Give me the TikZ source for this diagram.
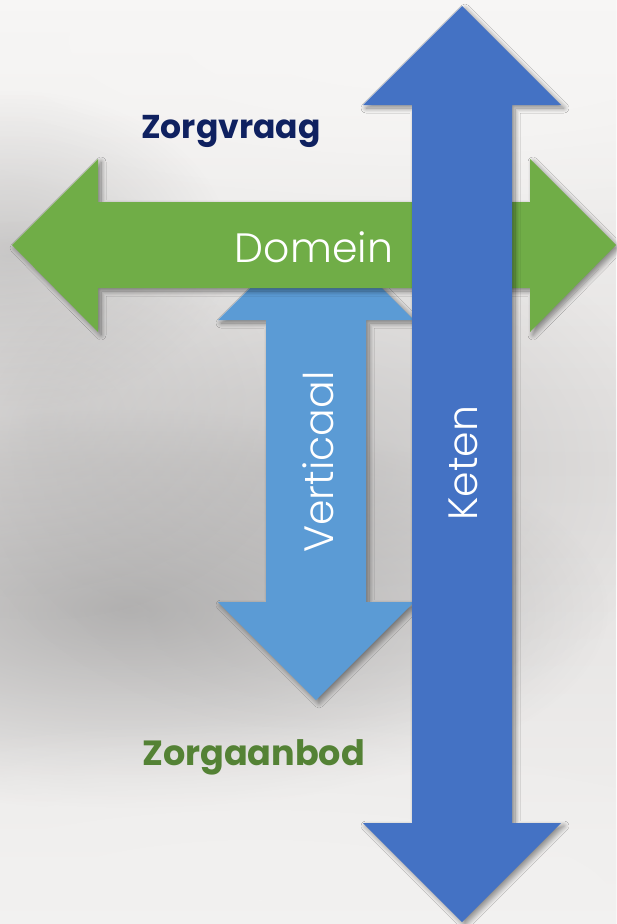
\documentclass[tikz,border=0pt]{standalone}
\usepackage{fontspec}
\setmainfont{Poppins}
\newfontfamily\lightfont{Poppins Light}
\usetikzlibrary{shadows.blur,fadings}

\definecolor{bgtop}{HTML}{F7F6F5}
\definecolor{bgmid}{HTML}{E2E0DF}
\definecolor{bgbot}{HTML}{F2F1F0}
\definecolor{cloud}{HTML}{A3A2A2}
\definecolor{domeingreen}{HTML}{70AD47}
\definecolor{ketenblue}{HTML}{4472C4}
\definecolor{verticaalblue}{HTML}{5B9BD5}
\definecolor{vraagnavy}{HTML}{0F2160}
\definecolor{aanbodgreen}{HTML}{548235}

% soft radial blob for the clouds
\tikzfading[name=softblob, inner color=transparent!0, outer color=transparent!100]

\tikzset{
  bigarrow/.style={draw=none, blur shadow={shadow xshift=3pt, shadow yshift=-3pt,
      shadow blur radius=5pt, shadow blur steps=10, shadow opacity=45}},
  armlabel/.style={text=white, font=\lightfont\fontsize{41}{41}\selectfont, inner sep=0pt},
  axislabel/.style={font=\bfseries, inner sep=0pt, anchor=base west},
  haze/.style={fill=cloud, path fading=softblob}
}

\begin{document}
\begin{tikzpicture}[x=1pt,y=-1pt]
  \useasboundingbox (0,0) rectangle (616,924);

  % cloudy grey backdrop
  \shade[top color=bgtop, bottom color=bgbot, middle color=bgmid] (0,0) rectangle (616,924);
  \fill[bgtop, path fading=softblob] (420,40) ellipse [x radius=700pt, y radius=200pt];
  \fill[haze, opacity=0.75] (130,610) ellipse [x radius=480pt, y radius=200pt];
  \fill[haze, opacity=0.45] (10,250) ellipse [x radius=220pt, y radius=160pt];
  \fill[haze, opacity=0.40] (320,470) ellipse [x radius=360pt, y radius=260pt];
  \fill[haze, opacity=0.30] (40,420) ellipse [x radius=260pt, y radius=200pt];
  \fill[bgbot, path fading=softblob] (260,900) ellipse [x radius=700pt, y radius=180pt];

  % vertical double arrow (behind the others)
  \fill[verticaalblue, bigarrow]
    (316,222) -- (414,320) -- (366,320) -- (366,602) -- (414,602) -- (316,700)
    -- (218,602) -- (266,602) -- (266,320) -- (218,320) -- cycle;

  % horizontal double arrow
  \fill[domeingreen, bigarrow]
    (12,245) -- (98,159) -- (98,202) -- (530,202) -- (530,159) -- (616,245)
    -- (530,332) -- (530,288) -- (98,288) -- (98,332) -- cycle;

  % long vertical double arrow (on top)
  \fill[ketenblue, bigarrow]
    (462,6) -- (561,105) -- (512,105) -- (512,823) -- (561,823) -- (462,922)
    -- (363,823) -- (412,823) -- (412,105) -- (363,105) -- cycle;

  % labels
  \node[armlabel] (domein) at (314,247) {Domein};
  \node[armlabel, rotate=90] (verticaal) at (318,462) {Verticaal};
  \node[armlabel, rotate=90] (keten) at (463,463) {Keten};

  \node[axislabel, text=vraagnavy, font=\bfseries\fontsize{33}{33}\selectfont] (vraag) at (141,138) {Zorgvraag};
  \node[axislabel, text=aanbodgreen, font=\bfseries\fontsize{35}{35}\selectfont] (aanbod) at (142,765) {Zorgaanbod};
\end{tikzpicture}
\end{document}
